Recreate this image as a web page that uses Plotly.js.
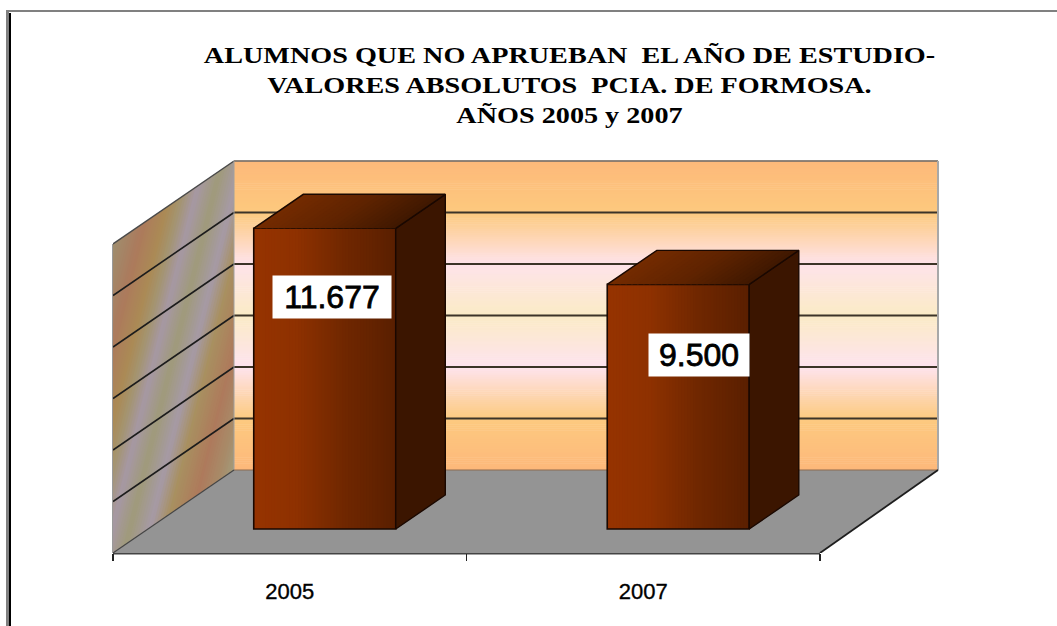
<!DOCTYPE html>
<html><head><meta charset="utf-8">
<script src="https://cdn.plot.ly/plotly-3.0.1.min.js"></script>
<style>html,body{margin:0;padding:0;background:#fff;overflow:hidden}
.annotation-text{stroke:#000;stroke-width:.8px}
.xtick text{stroke:#000;stroke-width:.35px}
</style>
</head><body><div id="chart" style="width:1057px;height:626px"></div>
<script>
const categories = ['2005', '2007'];
const alumnos = [11677, 9500];
const gridValues = [0, 2000, 4000, 6000, 8000, 10000, 12000];
const titleLines = ['ALUMNOS QUE NO APRUEBAN&nbsp; EL AÑO DE ESTUDIO-', 'VALORES ABSOLUTOS&nbsp; PCIA. DE FORMOSA.', 'AÑOS 2005 y 2007'];

// gradient stops: [position, colour]
const backWallStops = [[0,'#fdb87a'],[2000,'#fdca80'],[4000,'#fee3ee'],[6000,'#fbebc6'],[8000,'#fee3ea'],[10000,'#fdc97e'],[12000,'#fdb97a']];
const sideWallStops = [[36,'#9f8d6e'],[61,'#ac7a5c'],[80,'#ab8a55'],[92,'#a49470'],[106,'#a698a4'],[124,'#a09a7a'],[144,'#a69aa6'],[160,'#a89060'],[183,'#ae7a5c'],[200,'#a88a68'],[213,'#a39a7a']];
const barFrontStops = [[0,'#963300'],[0.3,'#8e3100'],[0.65,'#6f2700'],[1,'#5a1f00']];
const barTopStops = [[0,'#742b00'],[0.5,'#5f2300'],[1,'#3f1700']];

// projection of the oblique 3D box onto the axes
const PX_PER_CAT = 353.5, UNITS_PER_PX = 12000 / 309;
const DEPTH_X = 121 / PX_PER_CAT, DEPTH_Y = 83 * UNITS_PER_PX;
const X0 = -0.5, X1 = 1.5, BACK_TRIM = 3 / PX_PER_CAT;
const project = (x, v, z) => [x + z * DEPTH_X, v + z * DEPTH_Y];
const BAR_W = 142 / PX_PER_CAT, Z_FRONT = 24 / 83, Z_BACK = 58 / 83;
const backRight = v => [X1 + DEPTH_X - BACK_TRIM, v + DEPTH_Y];

const hex = c => [1,3,5].map(i => parseInt(c.substr(i,2),16));
function mix(stops, t) {
  for (let i = 1; i < stops.length; i++) {
    if (t <= stops[i][0]) {
      const a = stops[i-1], b = stops[i], f = Math.max(0,(t-a[0])/(b[0]-a[0]));
      const ca = hex(a[1]), cb = hex(b[1]);
      return 'rgb(' + ca.map((v,k)=>Math.round(v+(cb[k]-v)*f)).join(',') + ')';
    }
  }
  return stops[stops.length-1][1];
}
const pathOf = pts => 'M' + pts.map(p => p[0] + ' ' + p[1]).join('L') + 'Z';
const shapes = [];
const poly = (pts, fill) => shapes.push({type:'path', xref:'x', yref:'y', layer:'below', path:pathOf(pts), fillcolor:fill, line:{width:0}});
const seg = (a, b, color, width) => shapes.push({type:'line', xref:'x', yref:'y', layer:'below', x0:a[0], y0:a[1], x1:b[0], y1:b[1], line:{color, width}});

// back wall
for (let v = 0; v < 12000; v += 80) {
  const a = project(X0, v, 1), b = backRight(v + 100);
  poly([a, [b[0], a[1]], b, [a[0], b[1]]], mix(backWallStops, v + 40));
}
// side wall: slanted stripes clipped to the wall
const wallQuad = [project(X0,0,0), project(X0,0,1), project(X0,12000,1), project(X0,12000,0)];
const stripeKey = p => (p[0] + 0.5) * PX_PER_CAT + 113 - 0.25 * p[1] / UNITS_PER_PX;
function clip(pts, t, keepAbove) {
  const out = [];
  for (let i = 0; i < pts.length; i++) {
    const a = pts[i], b = pts[(i+1)%pts.length];
    const fa = stripeKey(a) - t, fb = stripeKey(b) - t;
    const ina = keepAbove ? fa >= 0 : fa <= 0, inb = keepAbove ? fb >= 0 : fb <= 0;
    if (ina) out.push(a);
    if (ina !== inb) { const f = fa / (fa - fb); out.push([a[0]+(b[0]-a[0])*f, a[1]+(b[1]-a[1])*f]); }
  }
  return out;
}
for (let t = 34; t < 216; t += 2.5) {
  const p = clip(clip(wallQuad, t, true), t + 3.5, false);
  if (p.length > 2) poly(p, mix(sideWallStops, t + 1.25));
}
// floor
poly([project(X0,0,0), project(X1,0,0), backRight(0), project(X0,0,1)], '#949494');
// gridlines
gridValues.forEach(v => {
  if (v > 0 && v < 12000) {
    seg(project(X0,v,1), backRight(v), '#3c3428', 1.8);
    seg(project(X0,v,0), project(X0,v,1), '#1c1c1c', 1.6);
  }
});
// box edges
seg(project(X0,12000,1), backRight(12000), '#6a6a6a', 1.6);
seg(project(X0,12000,0), project(X0,12000,1), '#4a4a4a', 1.5);
seg(project(X0,0,1), project(X0,12000,1), '#a0a0a0', 1);
seg(backRight(0), backRight(12000), '#a8a8a8', 2);
seg(project(X0,0,1), backRight(0), '#8a6a50', 1);
seg(project(X0,0,0), project(X0,0,1), '#444444', 1.2);
seg(project(X1,0,0), backRight(0), '#1e1e1e', 1.8);

// lines on the edge of the plot area and the page frame (paper coordinates)
const fx = px => (px - 113) / 944, fy = py => (553 - py) / 553;
shapes.push({type:'line', xref:'paper', yref:'paper', layer:'below', x0:fx(113), x1:fx(113), y0:fy(244), y1:fy(553), line:{color:'#9a9a9a', width:2}});
shapes.push({type:'line', xref:'paper', yref:'paper', layer:'below', x0:fx(113), x1:fx(820), y0:fy(553.5), y1:fy(553.5), line:{color:'#444444', width:2}});
[[6,9,10,626,'#808080'],[9,11,13,626,'#000000'],[6,1057,10,12,'#808080']].forEach(r => shapes.push({
  type:'rect', xref:'paper', yref:'paper', layer:'above', x0:fx(r[0]), x1:fx(r[1]), y0:fy(r[2]), y1:fy(r[3]), fillcolor:r[4], line:{width:0}}));

// bars
const traces = [];
const STRIPS = 48;
categories.forEach((cat, i) => {
  const value = alumnos[i];
  const base = project(i, 0, Z_FRONT);
  const xL = base[0] - BAR_W/2, xR = base[0] + BAR_W/2, b = base[1];
  // each strip runs to the bar's right edge, later strips paint over earlier ones
  const sx = [], sy = [], sw = [], sc = [];
  for (let s = 0; s < STRIPS; s++) {
    const left = xL + s * BAR_W / STRIPS;
    sx.push((left + xR) / 2); sy.push(value); sw.push(xR - left); sc.push(mix(barFrontStops, (s + 0.5) / STRIPS));
  }
  traces.push({type:'bar', x:sx, y:sy, base:b, width:sw, marker:{color:sc, line:{width:0}}, hoverinfo:'skip', showlegend:false});
  const top = b + value, dz = Z_BACK - Z_FRONT;
  const back = (x, v) => [x + dz*DEPTH_X, v + dz*DEPTH_Y];
  // side face
  const side = [[xR,b],[xR,top],back(xR,top),back(xR,b),[xR,b]];
  traces.push({type:'scatter', mode:'lines', x:side.map(p=>p[0]), y:side.map(p=>p[1]), fill:'toself', fillcolor:'#3b1500', line:{color:'#1a0800', width:1.4}, hoverinfo:'skip', showlegend:false});
  // top face
  const N = 24;
  for (let s = 0; s < N; s++) {
    const a = xL + s*BAR_W/N, c = xL + (s+1.3)*BAR_W/N;
    const pts = [[a,top],[Math.min(c,xR),top],back(Math.min(c,xR),top),back(a,top)];
    pts.push(pts[0]);
    traces.push({type:'scatter', mode:'lines', x:pts.map(p=>p[0]), y:pts.map(p=>p[1]), fill:'toself', fillcolor:mix(barTopStops,(s+0.5)/N), line:{width:0}, hoverinfo:'skip', showlegend:false});
  }
  const edge = [[xL,top],back(xL,top),back(xR,top),[xR,top]];
  traces.push({type:'scatter', mode:'lines', x:edge.map(p=>p[0]), y:edge.map(p=>p[1]), line:{color:'#1a0800', width:1.4}, hoverinfo:'skip', showlegend:false});
});
// bar outlines
traces.push({type:'bar', x:categories.map((c,i)=>project(i,0,Z_FRONT)[0]), y:alumnos, base:project(0,0,Z_FRONT)[1], width:BAR_W,
  marker:{color:'rgba(0,0,0,0)', line:{color:'#1a0800', width:1.6}}, name:'Alumnos', showlegend:false});

// value labels
const labelPx = [[332, 297], [699, 354.5]];
const annotations = alumnos.map((v, i) => ({
  xref:'x', yref:'y', x:(labelPx[i][0]-113)/PX_PER_CAT - 0.5, y:(553-labelPx[i][1])*UNITS_PER_PX,
  xanchor:'center', yanchor:'middle', showarrow:false,
  text:String(v).replace(/(\d)(\d{3})$/, '$1.$2'),
  font:{family:'"Liberation Sans"', size:32, color:'#000'}, bgcolor:'#fff',
  width:[118,100][i], height:42, borderpad:0
}));

const TITLE_CX = 569.5;
const layout = {
  width:1057, height:626, paper_bgcolor:'#fff', plot_bgcolor:'rgba(0,0,0,0)',
  margin:{l:113, r:0, t:0, b:73, pad:0}, barmode:'overlay', showlegend:false,
  title:{text:titleLines.join('<br>'), font:{family:'"Liberation Serif"', size:23, color:'#000', weight:700}, x:TITLE_CX/1057, xanchor:'center', xref:'container', y:1-42/626, yanchor:'top', yref:'container'},
  xaxis:{range:[X0, X0 + 944/PX_PER_CAT], tickmode:'array', tickvals:[0,1], ticktext:categories, ticks:'', showgrid:false, zeroline:false, showline:false,
    tickfont:{family:'"Liberation Sans"', size:22, color:'#000'}, ticklabelstandoff:23,
    minor:{tickmode:'array', tickvals:[-0.5,0.5,1.5], ticks:'outside', ticklen:7, tickcolor:'#222', tickwidth:1.5, showgrid:false}},
  yaxis:{range:[0, 553*UNITS_PER_PX], visible:false, showgrid:false, zeroline:false},
  shapes, annotations
};
Plotly.newPlot('chart', traces, layout, {displayModeBar:false, staticPlot:true}).then(gd => {
  // the reference title is set in horizontally stretched type, lower on the page
  const t = gd.querySelector('.gtitle');
  if (t) t.setAttribute('transform', 'translate(' + TITLE_CX + ',21) scale(1.226,1) translate(' + (-TITLE_CX) + ',0)');
});
</script></body></html>
